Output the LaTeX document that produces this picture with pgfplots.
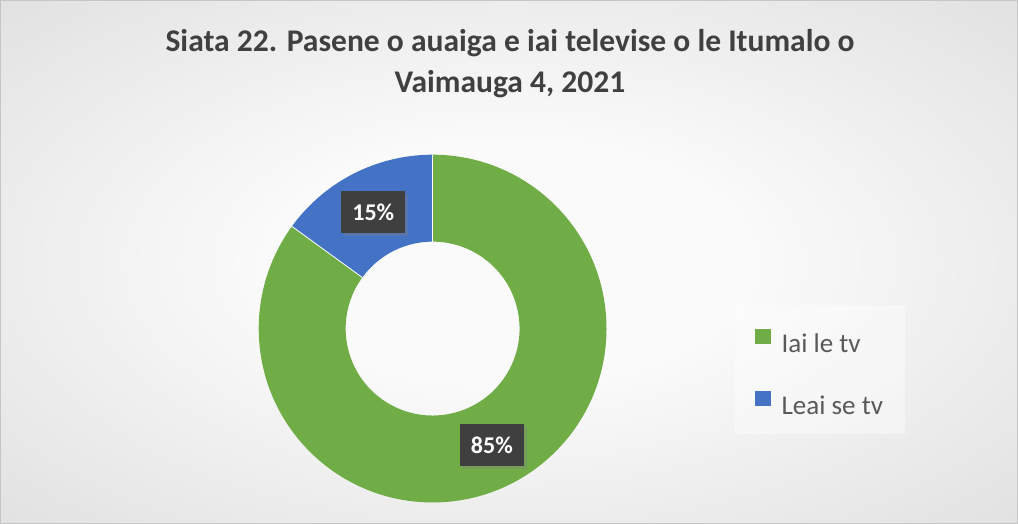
\documentclass[border=0pt]{standalone}
\usepackage{pgfplots}
\pgfplotsset{compat=1.18}
\usepackage{pgfplotstable}
\usepackage{fontspec}
\setmainfont{Carlito}
\usetikzlibrary{shadows}
\definecolor{cgreen}{HTML}{70AD47}
\definecolor{cblue}{HTML}{4472C4}
\definecolor{ctitle}{HTML}{404040}
\definecolor{clegend}{HTML}{595959}
\definecolor{clabel}{HTML}{3F3F3F}
\definecolor{bgA}{HTML}{FAFAFA}
\definecolor{bgB}{HTML}{E5E5E5}
\definecolor{bgC}{HTML}{D2D2D2}
\definecolor{bgD}{HTML}{C0C0C0}
\pgfdeclareradialshading{bgshade}{\pgfpoint{0bp}{0bp}}{color(0bp)=(bgA); color(12bp)=(bgA); color(32bp)=(bgB); color(50bp)=(bgC); color(71bp)=(bgD)}
\pgfplotstableread{
label value
{Iai le tv} 85
{Leai se tv} 15
}\donutdata
\begin{document}%
\pgfplotstablegetelem{0}{value}\of\donutdata\let\va\pgfplotsretval%
\pgfplotstablegetelem{1}{value}\of\donutdata\let\vb\pgfplotsretval%
\pgfmathsetmacro\total{\va+\vb}%
\pgfmathsetmacro\fa{\va/\total}%
\pgfmathsetmacro\fb{\vb/\total}%
\pgfmathsetmacro\angA{90-360*\fa}%
\pgfmathsetmacro\angB{\angA-360*\fb}%
\pgfmathsetmacro\midA{90-180*\fa}%
\pgfmathsetmacro\midB{\angA-180*\fb}%
\def\cx{434}\def\cy{194.5}\def\rout{173bp}\def\rin{86.5bp}\def\rlab{130bp}%
\begin{tikzpicture}
\begin{axis}[
  scale only axis, width=1018bp, height=529bp,
  xmin=0, xmax=1018, ymin=0, ymax=529,
  hide axis, clip=false,
  legend image code/.code={\fill[#1, draw=none, fill opacity=1] (0bp,0bp) rectangle (15bp,15bp); \path[draw=none, fill=none] (0bp,-4bp) rectangle (24bp,23bp);},
  legend cell align=left,
  legend style={at={(axis cs:735,89)}, anchor=south west,
    draw=none, fill=white, fill opacity=0.4, text opacity=1,
    font=\fontsize{27}{32}\selectfont, text=clegend,
    inner xsep=20bp, inner ysep=16bp, row sep=27bp},
]
\shade[shading=bgshade] (axis cs:4,1) rectangle (axis cs:1016,521);
\draw[gray!45, line width=0.8bp] (axis cs:4,1) rectangle (axis cs:1016,521);
% green slice
\fill[cgreen] ([shift={(90:\rout)}]axis cs:\cx,\cy) arc[start angle=90, end angle=\angA, radius=\rout]
  -- ([shift={(\angA:\rin)}]axis cs:\cx,\cy) arc[start angle=\angA, end angle=90, radius=\rin] -- cycle;
% blue slice
\fill[cblue] ([shift={(\angA:\rout)}]axis cs:\cx,\cy) arc[start angle=\angA, end angle=\angB, radius=\rout]
  -- ([shift={(\angB:\rin)}]axis cs:\cx,\cy) arc[start angle=\angB, end angle=\angA, radius=\rin] -- cycle;
\draw[white, line width=0.8bp] ([shift={(90:\rin)}]axis cs:\cx,\cy) -- ([shift={(90:\rout)}]axis cs:\cx,\cy);
\draw[white, line width=0.8bp] ([shift={(\angA:\rin)}]axis cs:\cx,\cy) -- ([shift={(\angA:\rout)}]axis cs:\cx,\cy);
% data labels
\node[fill=clabel, text=white, font=\bfseries\fontsize{24}{24}\selectfont, minimum width=64bp, minimum height=42bp, inner sep=0pt,
  drop shadow={shadow xshift=2.5bp, shadow yshift=-2.5bp, opacity=0.35}]
  at ([shift={(\midA:\rlab)}]axis cs:\cx,\cy) {\va\%};
\node[fill=clabel, text=white, font=\bfseries\fontsize{24}{24}\selectfont, minimum width=64bp, minimum height=42bp, inner sep=0pt,
  drop shadow={shadow xshift=2.5bp, shadow yshift=-2.5bp, opacity=0.35}]
  at ([shift={(\midB:\rlab)}]axis cs:\cx,\cy) {\vb\%};
% title
\node[anchor=base, text=ctitle, font=\bfseries\fontsize{31.5}{36}\selectfont] at (axis cs:511,470) {Siata 22. Pasene o auaiga e iai televise o le Itumalo o};
\node[anchor=base, text=ctitle, font=\bfseries\fontsize{31.5}{36}\selectfont] at (axis cs:511,429) {Vaimauga 4, 2021};
% legend
\addlegendimage{fill=cgreen}
\addlegendentry{Iai le tv}
\addlegendimage{fill=cblue}
\addlegendentry{Leai se tv}
\end{axis}
\end{tikzpicture}%
\end{document}
